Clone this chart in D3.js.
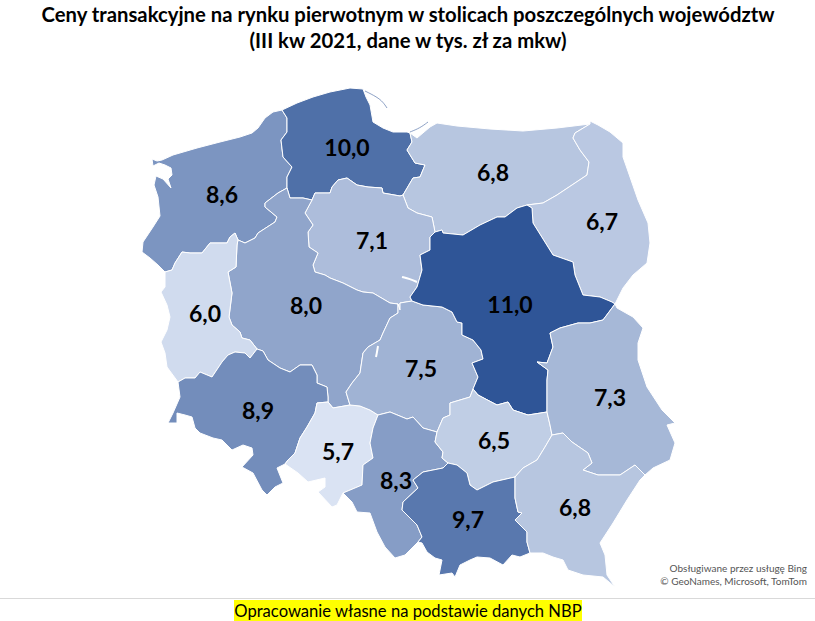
<!DOCTYPE html>
<html>
<head>
<meta charset="utf-8">
<script src="https://cdn.jsdelivr.net/npm/d3@7"></script>
<style>
html, body { margin: 0; padding: 0; background: #fff; }
svg { display: block; }
text { font-family: Lato, "Open Sans", sans-serif; }
</style>
</head>
<body>
<svg id="map"></svg>
<script>
const width = 815;
const height = 621;

const titleLines = ["Ceny transakcyjne na rynku pierwotnym w stolicach poszczególnych województw", "(III kw 2021, dane w tys. zł za mkw)"];
const sourceText = "Opracowanie własne na podstawie danych NBP";
const creditLines = ["Obsługiwane przez usługę Bing", "© GeoNames, Microsoft, TomTom"];

const regions = ["ZP", "PM", "WM", "PD", "KP", "WP", "LB", "DS", "OP", "LD", "MZ", "SL", "SK", "LU", "MP", "PK"];
const prices = [8.6, 10.0, 6.8, 6.7, 7.1, 8.0, 6.0, 8.9, 5.7, 7.5, 11.0, 8.3, 6.5, 7.3, 9.7, 6.8];

// label anchors in map units, same order as regions
const labelAnchors = [[222, 195], [347, 148], [493, 173], [602, 222], [372, 241], [306, 306], [205, 314], [258, 411],
    [338, 452], [421, 369], [510, 305], [396, 481], [494, 441], [610, 398], [468, 520], [575, 508]];

// borders traced from the map, shared between neighbours so there are no gaps
const arcs = {
    coastZP: [[282,110],[273,112],[265,118],[258,128],[252,133],[240,137],[220,142],[197,148],[173,155],[162,160],[157,161],[152,159],[153,166],[159,163],[165,165],[171,168],[172,175],[168,179],[171,188],[163,179],[156,176],[154,185],[158,197],[160,216],[153,227],[143,242],[142,252],[150,258],[158,265],[165,272]],
    zpPm: [[282,110],[287,118],[287,132],[281,140],[283,157],[292,167],[287,177],[287,188]],
    zpWp: [[287,188],[278,193],[265,203],[265,207],[277,217],[275,222],[258,233],[255,238],[245,243],[238,240]],
    zpLb: [[238,240],[235,233],[230,237],[227,243],[218,243],[210,243],[202,253],[190,253],[182,252],[175,263],[172,270],[165,272]],
    lbWest: [[165,272],[165,287],[161,292],[167,305],[170,317],[167,330],[161,342],[165,353],[167,367],[178,382]],
    lbDs: [[178,382],[185,378],[195,378],[200,372],[212,377],[222,362],[228,355],[235,352],[245,353],[250,358],[257,349]],
    lbWp: [[257,349],[250,340],[242,338],[240,332],[232,325],[229,317],[232,293],[228,272],[236,267],[237,245],[238,240]],
    pmWp: [[287,188],[290,198],[303,198],[312,200]],
    wpKp: [[312,200],[305,213],[313,225],[308,232],[309,247],[318,253],[313,265],[315,272],[325,275],[330,278],[343,283],[357,290],[363,292],[373,293],[390,303],[398,304]],
    wpLd: [[398,304],[398,313],[390,318],[383,333],[380,340],[368,347],[363,353],[360,373],[352,383],[346,392],[350,405]],
    wpDs: [[257,349],[263,351],[268,360],[280,368],[290,372],[300,365],[312,365],[317,375],[317,383],[327,387],[328,397],[328,402]],
    wpOp: [[328,402],[333,408],[350,405]],
    kpLd: [[398,304],[400,310],[400,303],[412,301]],
    ldMz: [[412,301],[423,305],[442,307],[452,312],[457,322],[462,323],[462,335],[473,340],[481,350],[483,359],[472,363],[478,377],[473,389]],
    ldSk: [[473,389],[470,397],[450,403],[450,415],[443,418],[437,432]],
    ldSl: [[437,432],[423,428],[413,417],[407,419],[390,412],[378,415]],
    ldOp: [[350,405],[360,406],[370,410],[378,415]],
    opSl: [[378,415],[373,428],[370,443],[373,458],[363,465],[362,485],[343,493]],
    opDs: [[328,402],[317,403],[315,413],[307,427],[300,438],[295,453],[288,460],[285,464]],
    opOuter: [[285,464],[298,473],[308,482],[325,478],[325,487],[318,492],[332,507],[337,505],[343,493]],
    dsOuter: [[178,382],[180,397],[173,413],[168,423],[177,423],[177,413],[185,415],[192,417],[195,428],[200,433],[213,438],[222,440],[232,450],[243,445],[252,448],[253,455],[242,467],[253,473],[262,490],[267,495],[275,487],[283,483],[277,468],[285,464]],
    slSk: [[437,432],[435,442],[443,452],[442,458],[448,463]],
    slMp: [[448,463],[443,468],[423,472],[413,480],[418,488],[403,502],[402,510],[417,525],[422,537],[418,542]],
    slOuter: [[343,493],[352,502],[357,512],[370,513],[377,532],[385,547],[395,558],[405,555],[413,547],[418,542]],
    mpOuter: [[418,542],[422,543],[427,552],[435,558],[442,560],[439,575],[452,573],[455,577],[460,565],[470,560],[477,557],[490,558],[503,565],[512,555],[520,557],[530,553]],
    mpSk: [[448,463],[457,465],[467,473],[470,485],[477,490],[493,482],[515,477]],
    mpPk: [[515,477],[515,498],[518,512],[522,513],[515,520],[527,532],[527,542],[530,553]],
    skPk: [[515,477],[523,468],[537,460],[545,447],[552,435]],
    skLu: [[547,412],[550,425],[552,435]],
    mzSk: [[473,389],[478,395],[497,405],[508,402],[513,410],[528,415],[547,412]],
    luPk: [[552,435],[563,433],[572,442],[588,453],[592,463],[583,470],[598,475],[620,475],[635,465],[645,475]],
    luOuter: [[645,475],[653,468],[670,460],[675,443],[667,425],[675,423],[662,410],[647,387],[638,360],[638,343],[643,328],[633,317],[617,308],[615,304]],
    mzLu: [[547,412],[547,380],[548,370],[537,362],[547,363],[553,347],[550,333],[560,328],[578,323],[590,323],[603,320],[615,304]],
    mzPd: [[615,304],[612,302],[600,297],[583,295],[575,275],[573,262],[553,255],[533,223],[532,208],[527,205]],
    pdWm: [[527,205],[543,203],[557,195],[587,175],[589,162],[580,150],[573,138],[575,133],[590,124]],
    pdOuter: [[590,124],[590,121],[598,125],[610,132],[623,143],[623,157],[630,177],[638,200],[648,223],[650,243],[647,263],[633,275],[623,288],[615,304]],
    wmCoast: [[590,124],[557,128],[523,131],[490,129],[457,126],[437,123],[430,127],[417,138],[410,133]],
    wmPm: [[410,133],[412,142],[407,150],[415,163],[425,165],[420,177],[413,178],[403,195]],
    wmKp: [[403,195],[408,208],[417,213],[432,217],[435,232]],
    wmMz: [[435,232],[442,230],[443,233],[463,235],[480,225],[497,217],[505,217],[517,208],[527,205]],
    kpMz: [[435,232],[430,237],[430,250],[420,255],[422,270],[417,287],[410,297],[412,301]],
    pmKp: [[312,200],[315,193],[330,193],[332,187],[338,180],[347,178],[357,185],[368,187],[382,188],[383,193],[400,196],[403,195]],
    pmCoast: [[410,133],[407,132],[393,132],[383,128],[373,122],[370,105],[366,97],[363,89],[350,88],[330,92],[313,97],[297,103],[282,110]],
    pkOuter: [[530,553],[543,553],[553,557],[563,560],[568,570],[583,575],[603,577],[615,587],[607,575],[605,555],[600,543],[613,523],[627,500],[640,480],[645,475]]
};

// "-" means the arc is walked backwards
const rings = {
    ZP: ["coastZP", "-zpLb", "-zpWp", "-zpPm"],
    PM: ["zpPm", "pmWp", "pmKp", "-wmPm", "pmCoast"],
    WM: ["wmCoast", "wmPm", "wmKp", "wmMz", "pdWm"],
    PD: ["pdOuter", "mzPd", "pdWm"],
    KP: ["pmKp", "wmKp", "kpMz", "-kpLd", "-wpKp"],
    WP: ["pmWp", "wpKp", "wpLd", "-wpOp", "-wpDs", "lbWp", "-zpWp"],
    LB: ["-zpLb", "-lbWp", "-lbDs", "-lbWest"],
    DS: ["lbDs", "wpDs", "opDs", "-dsOuter"],
    OP: ["wpOp", "ldOp", "opSl", "-opOuter", "-opDs"],
    LD: ["ldMz", "ldSk", "ldSl", "-ldOp", "-wpLd", "kpLd"],
    MZ: ["wmMz", "-mzPd", "-mzLu", "-mzSk", "-ldMz", "-kpMz"],
    SL: ["slSk", "slMp", "-slOuter", "-opSl", "-ldSl"],
    SK: ["mzSk", "skLu", "-skPk", "-mpSk", "-slSk", "-ldSk"],
    LU: ["mzLu", "-luOuter", "-luPk", "-skLu"],
    MP: ["mpSk", "mpPk", "-mpOuter", "-slMp"],
    PK: ["skPk", "luPk", "-pkOuter", "-mpPk"]
};

// Hel, the Vistula spit and the two white water bodies
const spits = [[[365,91],[377,97],[383,102],[387,108]], [[410,132],[420,128],[428,122]]];
const waters = [[[402,277],[410,279],[417,282]], [[378,346],[377,352],[376,357]]];

function ringCoords(list) {
    const coords = [];
    list.forEach(function(name) {
        const pts = name[0] === "-" ? arcs[name.slice(1)].slice().reverse() : arcs[name];
        pts.forEach(function(p) { coords.push(p); });
    });
    coords.push(coords[0]);
    return coords;
}

const features = regions.map(function(id, i) {
    return {
        type: "Feature",
        properties: { id: id, price: prices[i], anchor: labelAnchors[i] },
        geometry: { type: "Polygon", coordinates: [ringCoords(rings[id])] }
    };
});

const color = d3.scaleLinear()
    .domain([d3.min(prices), d3.max(prices)])
    .range(["#dae3f3", "#2f5597"]);

const path = d3.geoPath().projection(d3.geoIdentity());
const fmt = function(v) { return v.toFixed(1).replace(".", ","); };

const svg = d3.select("#map")
    .attr("width", width)
    .attr("height", height)
    .attr("viewBox", [0, 0, width, height]);

svg.append("g")
    .selectAll("path")
    .data(features)
    .join("path")
        .attr("fill", d => color(d.properties.price))
        .attr("stroke", "#fff")
        .attr("stroke-width", 1)
        .attr("stroke-linejoin", "round")
        .attr("d", path);

const line = d3.line().curve(d3.curveBasis);

svg.append("g")
    .selectAll("path")
    .data(spits)
    .join("path")
        .attr("fill", "none")
        .attr("stroke", "#6f88b5")
        .attr("stroke-width", 0.8)
        .attr("d", line);

svg.append("g")
    .selectAll("path")
    .data(waters)
    .join("path")
        .attr("fill", "none")
        .attr("stroke", "#fff")
        .attr("stroke-width", 2)
        .attr("d", line);

svg.append("g")
    .selectAll("text")
    .data(features)
    .join("text")
        .attr("x", d => d.properties.anchor[0])
        .attr("y", d => d.properties.anchor[1])
        .attr("dy", "0.36em")
        .attr("text-anchor", "middle")
        .attr("font-size", 23)
        .attr("font-weight", 700)
        .attr("fill", "#000")
        .text(d => fmt(d.properties.price));

svg.append("g")
    .selectAll("text")
    .data(titleLines)
    .join("text")
        .attr("x", 408)
        .attr("y", (d, i) => 22 + i * 26)
        .attr("text-anchor", "middle")
        .attr("font-size", 20.3)
        .attr("font-weight", 700)
        .attr("fill", "#000")
        .text(d => d);

svg.append("g")
    .selectAll("text")
    .data(creditLines)
    .join("text")
        .attr("x", 807)
        .attr("y", (d, i) => 572 + i * 13)
        .attr("text-anchor", "end")
        .attr("font-size", 10)
        .attr("fill", "#555")
        .text(d => d);

svg.append("line")
    .attr("x1", 0)
    .attr("x2", width)
    .attr("y1", 598.5)
    .attr("y2", 598.5)
    .attr("stroke", "#d9d9d9");

svg.append("rect")
    .attr("x", 234)
    .attr("y", 600)
    .attr("width", 348)
    .attr("height", 21)
    .attr("fill", "#ffff00");

svg.append("text")
    .attr("x", 408)
    .attr("y", 617)
    .attr("text-anchor", "middle")
    .attr("font-size", 16.6)
    .attr("fill", "#000")
    .text(sourceText);
</script>
</body>
</html>
